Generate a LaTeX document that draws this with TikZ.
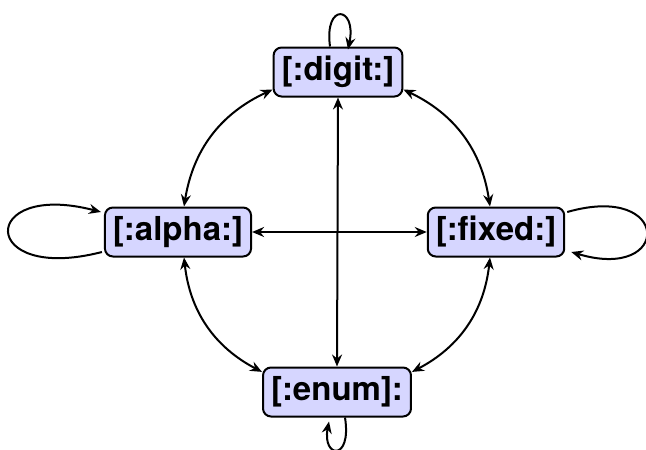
\documentclass[tikz,border=0pt]{standalone}
\usepackage{fontspec}
\setmainfont{TeX Gyre Heros}
\usetikzlibrary{arrows.meta,positioning}
\definecolor{boxfill}{RGB}{214,214,255}
\begin{document}
\begin{tikzpicture}[x=1pt,y=-1pt,
  state/.style={draw=black,line width=2pt,fill=boxfill,rounded corners=8pt,
    inner xsep=8pt,inner ysep=9pt,text height=24pt,text depth=7pt,
    font=\fontsize{33}{40}\selectfont\bfseries},
  edge/.style={line width=2pt,{Stealth[length=12pt,width=10pt,inset=4pt]}-{Stealth[length=12pt,width=10pt,inset=4pt]}},
  loopedge/.style={line width=2pt,-{Stealth[length=12pt,width=10pt,inset=4pt]}}]
\useasboundingbox (0,0) rectangle (646,450);
\node[state] (digit) at (338,72) {[:digit:]};
\node[state] (alpha) at (178,232) {[:alpha:]};
\node[state] (fixed) at (496,232) {[:fixed:]};
\node[state] (enum) at (337,392) {[:enum]:};
% straight connectors
\draw[edge] (digit.south) -- (enum.north);
\draw[edge] (alpha.east) -- (fixed.west);
% curved connectors
\draw[edge] (digit.195) to[bend right=28] ([xshift=6pt]alpha.north);
\draw[edge] (digit.345) to[bend left=28] ([xshift=-6pt]fixed.north);
\draw[edge] ([xshift=6pt]alpha.south) to[bend right=28] (enum.165);
\draw[edge] ([xshift=-6pt]fixed.south) to[bend left=28] (enum.15);
% loops
\coordinate (dA) at ([xshift=-8pt]digit.north);
\coordinate (dB) at ([xshift=10pt,yshift=-3pt]digit.north);
\draw[loopedge] (dA) .. controls (324,2) and (357,6) .. (dB);
\coordinate (aA) at ([xshift=-2pt,yshift=-20pt]alpha.west);
\coordinate (aB) at ([xshift=-3pt,yshift=20pt]alpha.west);
\draw[loopedge] (aA) .. controls (-22,284) and (-22,180) .. (aB);
\coordinate (fA) at ([xshift=2pt,yshift=20pt]fixed.east);
\coordinate (fB) at ([xshift=6pt,yshift=-20pt]fixed.east);
\draw[loopedge] (fA) .. controls (672,182) and (672,282) .. (fB);
\coordinate (eA) at ([xshift=8pt]enum.south);
\coordinate (eB) at ([xshift=-8pt,yshift=-4pt]enum.south);
\draw[loopedge] (eA) .. controls (352,462) and (322,458) .. (eB);
\end{tikzpicture}
\end{document}
